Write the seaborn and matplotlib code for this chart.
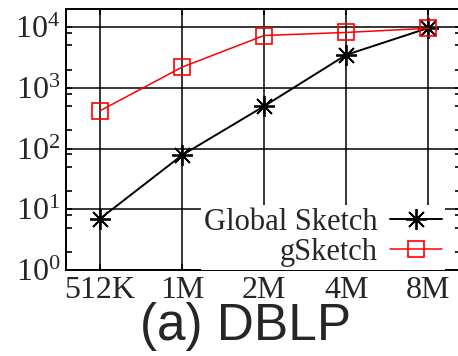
import numpy as np
import pandas as pd
import matplotlib
matplotlib.use("Agg")
import matplotlib.pyplot as plt
import matplotlib.ticker as mticker
import seaborn as sns

# dados (escala log)
sizes = ["512K", "1M", "2M", "4M", "8M"]
global_sketch = [7, 78, 500, 3500, 9700]
gsketch = [420, 2200, 7300, 8200, 9600]

sns.set_style("ticks")
plt.rcParams["font.family"] = ["Liberation Serif", "DejaVu Serif"]
plt.rcParams["mathtext.fontset"] = "custom"
plt.rcParams["mathtext.rm"] = "Liberation Serif"

df = pd.DataFrame({
    "pos": list(range(len(sizes))) * 2,
    "valor": global_sketch + gsketch,
    "serie": ["Global Sketch"] * len(sizes) + ["gSketch"] * len(sizes),
})

fig = plt.figure(figsize=(4.58, 3.56), dpi=100)
ax = fig.add_axes([66 / 458, 86 / 356, 395 / 458, 261 / 356])

# Global Sketch - preto com asterisco
d1 = df[df["serie"] == "Global Sketch"]
sns.lineplot(x="pos", y="valor", data=d1, ax=ax, color="black", lw=1.4,
             marker=(8, 2, 0), markersize=15, mew=1.3, mec="black",
             label="Global Sketch", zorder=3)

# gSketch - vermelho com quadrado vazio
d2 = df[df["serie"] == "gSketch"]
sns.lineplot(x="pos", y="valor", data=d2, ax=ax, color="red", lw=1.1,
             marker="s", markersize=12, mfc="none", mec="red", mew=1.2,
             label="gSketch", zorder=3)

ax.set_yscale("log")
ax.set_ylim(1, 10 ** 4.3)
ax.set_xlim(-0.415, 4.40)
ax.set_xticks(range(len(sizes)))
ax.set_xticklabels(sizes)
ax.yaxis.set_major_locator(mticker.LogLocator(base=10, numticks=10))
ax.yaxis.set_minor_locator(mticker.LogLocator(base=10, subs=[2, 5, 8], numticks=10))
ax.yaxis.set_minor_formatter(mticker.NullFormatter())
ax.set_xlabel("")
ax.set_ylabel("")

ax.grid(True, which="major", color="black", lw=1.1, ls="-")
ax.tick_params(which="both", direction="in", top=True, right=True,
               color="black", width=1.2)
ax.tick_params(which="major", length=4, labelsize=23, pad=4)
ax.tick_params(which="minor", length=4)
for s in ax.spines.values():
    s.set_color("black")
    s.set_linewidth(1.4)

leg = ax.legend(loc="lower right", bbox_to_anchor=(0.96, 0.0), markerfirst=False,
                fontsize=22, frameon=True, framealpha=1, facecolor="white",
                edgecolor="none", fancybox=False, borderpad=0.1, borderaxespad=0,
                handlelength=1.7, handletextpad=0.4, labelspacing=0.03)
for t in leg.get_texts():
    t.set_ha("right")

fig.text(0.537, 0.045, "(a) DBLP", family="Liberation Sans", fontsize=37,
         ha="center", va="baseline")

fig.savefig("out.png", dpi=100)
